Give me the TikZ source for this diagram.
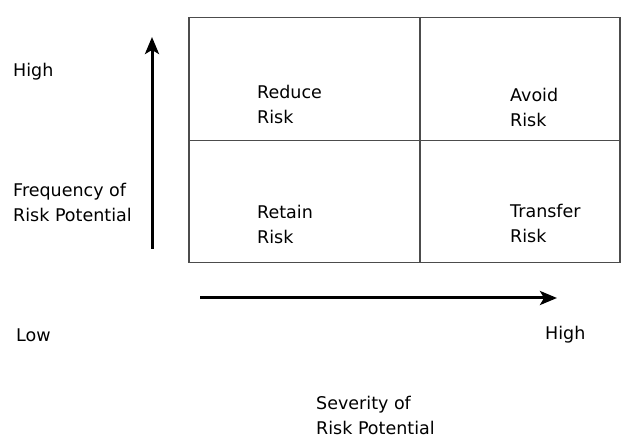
\documentclass[tikz,border=0pt]{standalone}
\usepackage{fontspec}
\setmainfont{DejaVu Sans}
\usetikzlibrary{arrows.meta}

\begin{document}
\begin{tikzpicture}[
		x=1pt, y=-1pt,
		every node/.style={inner sep=0pt, font=\fontsize{17.5}{25}\selectfont},
		cell/.style={draw=black!70, line width=1.5pt, anchor=north west},
		axis/.style={line width=3pt, -{Stealth[length=17pt, width=14pt, inset=4pt]}},
		lbl/.style={align=left, anchor=west}
	]
  \useasboundingbox (0,0) rectangle (627,446);
  % the four cells
  \node (reduce_cell) [cell, minimum width=231pt, minimum height=123pt] at (188,17) {};
  \node (avoid_cell) [cell, minimum width=200pt, minimum height=123pt] at (419,17) {};
  \node (retain_cell) [cell, minimum width=231pt, minimum height=122pt] at (188,140) {};
  \node (transfer_cell) [cell, minimum width=200pt, minimum height=122pt] at (419,140) {};
  \node (reduce) [lbl] at (257,104) {Reduce\\Risk};
  \node (avoid) [lbl] at (510,107) {Avoid\\Risk};
  \node (retain) [lbl] at (257,224) {Retain\\Risk};
  \node (transfer) [lbl] at (510,223) {Transfer\\Risk};
  % axes
  \coordinate (freq_low) at (152,249);
  \coordinate (freq_high) at (152,37);
  \coordinate (sev_low) at (200,298);
  \coordinate (sev_high) at (557,298);
  \draw [axis] (freq_low) -- (freq_high);
  \draw [axis] (sev_low) -- (sev_high);
  \node (freq_high_label) [lbl] at (13,72) {High};
  \node (freq_label) [lbl] at (13,202) {Frequency of\\Risk Potential};
  \node (sev_low_label) [lbl] at (16,335) {Low};
  \node (sev_high_label) [lbl] at (545,335) {High};
  \node (sev_label) [lbl] at (316,415) {Severity of\\Risk Potential};
\end{tikzpicture}
\end{document}
